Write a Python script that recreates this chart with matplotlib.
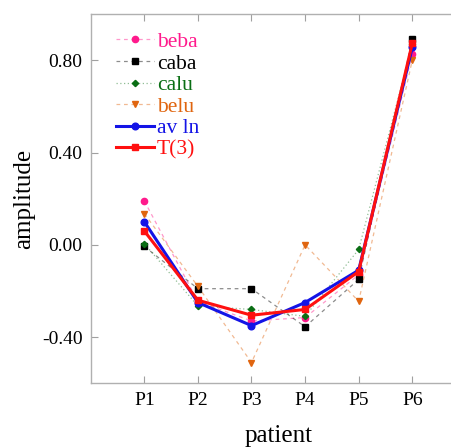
import matplotlib
matplotlib.use('Agg')
import matplotlib.pyplot as plt
from matplotlib.colors import to_rgba

plt.rcParams['font.family'] = ['Liberation Serif', 'DejaVu Serif']

patients = ['P1', 'P2', 'P3', 'P4', 'P5', 'P6']
beba = [0.19, -0.245, -0.33, -0.315, -0.13, 0.826]
caba = [-0.007, -0.19, -0.19, -0.355, -0.15, 0.89]
calu = [0.005, -0.265, -0.28, -0.31, -0.02, 0.87]
belu = [0.135, -0.18, -0.51, 0.0, -0.245, 0.80]
av_ln = [0.10, -0.25, -0.35, -0.25, -0.11, 0.855]
t3 = [0.06, -0.24, -0.305, -0.28, -0.116, 0.873]

x = list(range(1, len(patients) + 1))

fig = plt.figure(figsize=(4.52, 4.48), dpi=100)
ax = fig.add_axes([0.2007, 0.1444, 0.83, 0.8243])

def faded(c, a=0.45):
    return to_rgba(c, a)

# thin individual series: faded line, solid markers
series = [
    (beba, 'beba', '#FF1A8C', 'o', (0, (3, 3)), 4.5),
    (caba, 'caba', '#000000', 's', (0, (3, 3)), 4.5),
    (calu, 'calu', '#0A6E14', 'D', (0, (1, 2)), 3.2),
    (belu, 'belu', '#E0650F', 'v', (0, (3, 3)), 4.5),
]
for y, name, c, m, ls, ms in series:
    ax.plot(x, y, linestyle=ls, linewidth=0.9, color=faded(c),
            marker=m, markersize=ms, markerfacecolor=c, markeredgecolor=c,
            label=name)

ax.plot(x, av_ln, color='#1414E6', linewidth=2.2, marker='o', markersize=4.8,
        label='av ln')
ax.plot(x, t3, color='#FF1010', linewidth=2.2, marker='s', markersize=4.8,
        label='T(3)')

ax.set_xlim(0, 7)
ax.set_ylim(-0.6, 1.0)
ax.set_xticks(x)
ax.set_xticklabels(patients)
ax.set_yticks([-0.4, 0.0, 0.4, 0.8])
ax.set_yticklabels(['-0.40', '0.00', '0.40', '0.80'])
ax.tick_params(direction='in', length=5, width=0.8, color='#A0A0A0',
               labelsize=14, top=True, right=False)
ax.tick_params(axis='y', pad=6)
ax.tick_params(axis='x', pad=6)
for s in ax.spines.values():
    s.set_color('#B0B0B0')
    s.set_linewidth(1.0)

ax.set_xlabel('patient', fontsize=18, labelpad=12)
ax.set_ylabel('amplitude', fontsize=18, labelpad=5)

leg = ax.legend(loc='upper left', bbox_to_anchor=(0.045, 0.975), frameon=False,
                fontsize=15.5, handlelength=1.75, handletextpad=0.15,
                labelspacing=0.07, borderaxespad=0.0)
for txt, line in zip(leg.get_texts(), leg.get_lines()):
    txt.set_color(line.get_markerfacecolor())

fig.savefig('out.png', dpi=100)
